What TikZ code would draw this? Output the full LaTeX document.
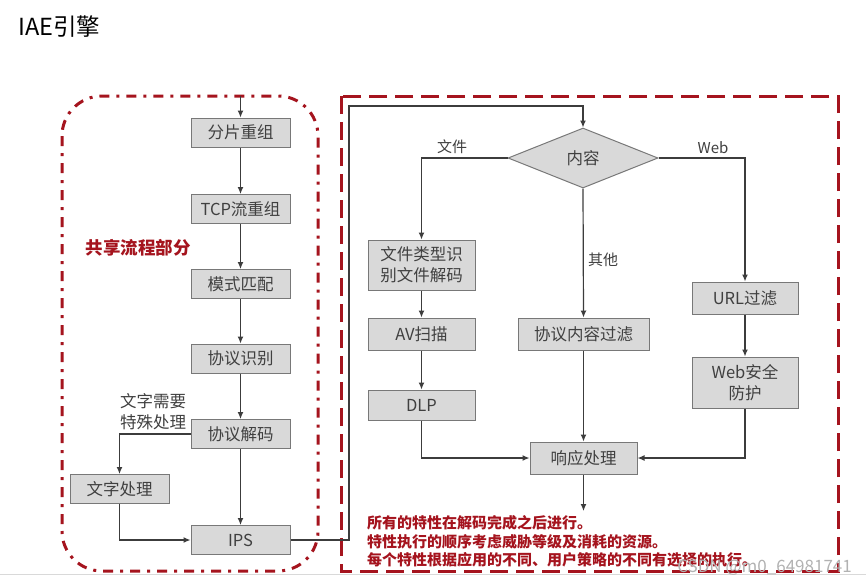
\documentclass[tikz,border=0pt]{standalone}
\usepackage{fontspec}
\setmainfont{Noto Sans CJK SC}
\usetikzlibrary{arrows.meta,shapes.geometric}
\definecolor{boxfill}{RGB}{217,217,217}
\definecolor{boxline}{RGB}{120,120,120}
\definecolor{txt}{RGB}{64,64,64}
\definecolor{lnc}{RGB}{60,60,60}
\definecolor{dred}{RGB}{165,20,30}
\begin{document}
\begin{tikzpicture}[x=1pt,y=-1pt,
  proc/.style={draw=boxline, fill=boxfill, line width=1pt, minimum width=99pt, minimum height=29pt, inner sep=0pt, text=txt, font=\fontsize{16.5}{19}\selectfont, align=center},
  conn/.style={draw=lnc, line width=1.2pt, -{Latex[length=7pt,width=6pt]}},
  lab/.style={text=txt, font=\fontsize{15}{18}\selectfont, inner sep=0pt},
  note/.style={text=dred, font=\fontsize{15}{17}\selectfont\bfseries, inner sep=0pt, anchor=west}
]
\useasboundingbox (0,0) rectangle (866,587);
\fill[white] (0,0) rectangle (866,587);
\draw[gray!30, line width=1pt] (0,574) -- (866,574);
\node[anchor=west, inner sep=0pt, font=\fontsize{23.5}{28}\selectfont] (title) at (18,27) {IAE引擎};

% frames
\draw[dred, line width=3pt, rounded corners=40pt, dash pattern=on 10pt off 7pt on 3pt off 7pt] (62,96) rectangle (318,571);
\draw[dred, line width=3pt, dash pattern=on 18pt off 8pt] (341,96) rectangle (838,571);

\node[text=dred, font=\fontsize{17.5}{20}\selectfont\bfseries, inner sep=0pt] (shared) at (138,248) {共享流程部分};

% left column
\node[proc] (n1) at (240.5,132.5) {分片重组};
\node[proc] (n2) at (240.5,209) {TCP流重组};
\node[proc] (n3) at (240.5,284) {模式匹配};
\node[proc] (n4) at (240.5,358.5) {协议识别};
\node[proc] (n5) at (240.5,434) {协议解码};
\node[proc] (ips) at (240.5,540) {IPS};
\node[proc] (wz) at (119.5,489) {文字处理};
\node[lab, align=right, font=\fontsize{16.5}{21}\selectfont] (wzl) at (153,412) {文字需要\\特殊处理};

\coordinate (in) at (240.5,96);
\draw[conn] (in) -- (n1);
\draw[conn] (n1) -- (n2);
\draw[conn] (n2) -- (n3);
\draw[conn] (n3) -- (n4);
\draw[conn] (n4) -- (n5);
\draw[conn] (n5) -- (ips);
\draw[conn] (n5.west) -| (wz.north);
\draw[conn] (wz.south) |- (ips.west);

% right part
\node[diamond, draw=boxline, fill=boxfill, line width=1pt, minimum width=150pt, minimum height=60pt, inner sep=0pt, aspect=2.5, text=txt, font=\fontsize{16.5}{19}\selectfont] (dia) at (583,158) {内容};
\node[proc, minimum width=107pt, minimum height=50pt, font=\fontsize{16.5}{21}\selectfont] (file) at (421.5,265) {文件类型识\\别文件解码};
\node[proc, minimum width=107pt, minimum height=32pt] (av) at (421.5,334) {AV扫描};
\node[proc, minimum width=107pt, minimum height=30pt] (dlp) at (421.5,405) {DLP};
\node[proc, minimum width=131pt, minimum height=32pt] (pcf) at (583.5,334) {协议内容过滤};
\node[proc, minimum width=106pt, minimum height=32pt] (url) at (745,298) {URL过滤};
\node[proc, minimum width=106pt, minimum height=51pt, font=\fontsize{16.5}{21}\selectfont] (web) at (745,382.5) {Web安全\\防护};
\node[proc, minimum width=107pt, minimum height=32pt] (resp) at (583.5,458) {响应处理};

\node[lab] (lfile) at (452,147) {文件};
\node[lab] (lweb) at (713,148) {Web};
\node[lab] (lother) at (603,260) {其他};

\coordinate (c1) at (349,106);
\coordinate (out) at (583.5,511);
\draw[conn] (ips.east) -| (c1) -| (dia.north);
\draw[conn] (dia.west) -| (file.north);
\draw[conn] (dia.east) -| (url.north);
\draw[conn] (dia.south) -- (pcf.north);
\draw[conn] (file) -- (av);
\draw[conn] (av) -- (dlp);
\draw[conn] (url) -- (web);
\draw[conn] (pcf) -- (resp);
\draw[conn] (dlp.south) |- (resp.west);
\draw[conn] (web.south) |- (resp.east);
\draw[conn] (resp) -- (out);

\node[note] (t1) at (367,523) {所有的特性在解码完成之后进行。};
\node[note] (t2) at (367,542) {特性执行的顺序考虑威胁等级及消耗的资源。};
\node[note] (t3) at (367,560) {每个特性根据应用的不同、用户策略的不同有选择的执行。};

\node[anchor=east, inner sep=0pt, text=gray!60, font=\fontsize{17}{20}\selectfont] (wm) at (852,568) {CSDN @m0\_64981741};
\end{tikzpicture}
\end{document}
